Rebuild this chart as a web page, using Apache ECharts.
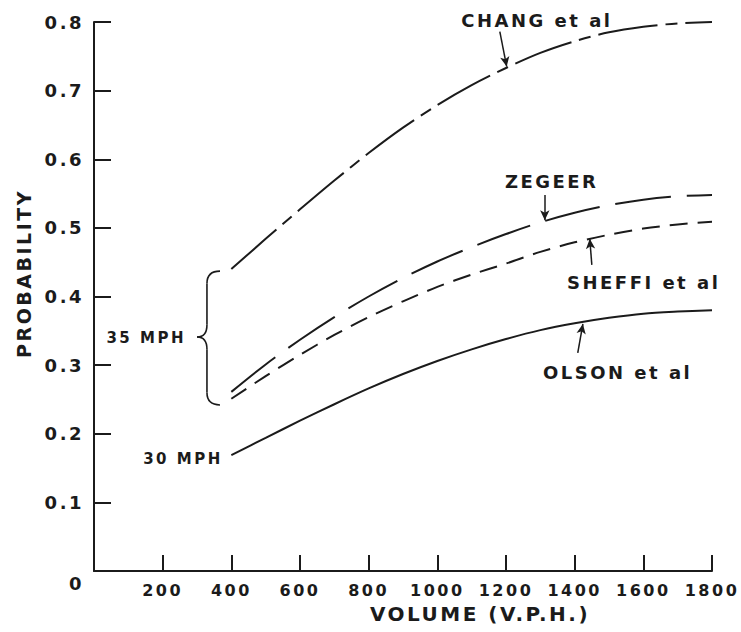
<!DOCTYPE html>
<html>
<head>
<meta charset="utf-8">
<style>
html, body { margin: 0; padding: 0; background: #fff; }
#chart { width: 741px; height: 632px; }
#chart text { letter-spacing: 2.5px; }
</style>
<script src="https://cdn.jsdelivr.net/npm/echarts@6/dist/echarts.min.js"></script>
</head>
<body>
<div id="chart"></div>
<script>
var volume = [400, 500, 600, 700, 800, 900, 1000, 1100, 1200, 1300, 1400, 1500, 1600, 1700, 1800];
var chang  = [0.440, 0.484, 0.527, 0.569, 0.609, 0.646, 0.679, 0.708, 0.733, 0.755, 0.772, 0.785, 0.793, 0.798, 0.800];
var zegeer = [0.261, 0.301, 0.337, 0.370, 0.400, 0.427, 0.451, 0.472, 0.491, 0.508, 0.522, 0.533, 0.541, 0.546, 0.548];
var sheffi = [0.251, 0.284, 0.315, 0.344, 0.370, 0.393, 0.414, 0.432, 0.448, 0.465, 0.479, 0.490, 0.499, 0.505, 0.509];
var olson  = [0.169, 0.194, 0.219, 0.243, 0.266, 0.287, 0.306, 0.323, 0.338, 0.351, 0.361, 0.369, 0.375, 0.378, 0.380];

// arrows: [from, to] in data units
var changArrow  = [[1182, 0.786], [1202, 0.735]];
var zegeerArrow = [[1313, 0.548], [1313, 0.511]];
var sheffiArrow = [[1450, 0.446], [1444, 0.484]];
var olsonArrow  = [[1409, 0.318], [1424, 0.360]];

// curve / speed labels: [volume, probability]
var notes = [
  { text: 'CHANG et al', at: [1290, 0.802], size: 18, align: 'center' },
  { text: 'ZEGEER', at: [1333, 0.567], size: 18, align: 'center' },
  { text: 'SHEFFI et al', at: [1601, 0.420], size: 18, align: 'center' },
  { text: 'OLSON et al', at: [1525, 0.289], size: 18, align: 'center' },
  { text: '35 MPH', at: [268, 0.340], size: 15, align: 'right' },
  { text: '30 MPH', at: [375, 0.163], size: 15, align: 'right' }
];

var ink = '#1b1b1b';
var font = 'DejaVu Sans';

var chart = echarts.init(document.getElementById('chart'), null, { renderer: 'svg' });

function curve(name, vals, dash, arrow) {
  return {
    name: name,
    type: 'line',
    smooth: 0.3,
    symbol: 'none',
    data: volume.map(function (v, i) { return [v, vals[i]]; }),
    lineStyle: { color: ink, width: 2, type: dash },
    markLine: {
      silent: true,
      symbol: ['none', 'arrow'],
      symbolSize: [7, 10],
      lineStyle: { color: ink, width: 1.5, type: 'solid' },
      label: { show: false },
      data: [[{ coord: arrow[0] }, { coord: arrow[1] }]]
    }
  };
}

var option = {
  animation: false,
  backgroundColor: '#fff',
  grid: {
    left: 94,
    right: 29,
    top: 22,
    bottom: 61,
    outerBoundsMode: 'none'
  },
  xAxis: {
    type: 'value',
    min: 0,
    max: 1800,
    interval: 200,
    name: 'VOLUME (V.P.H.)',
    nameLocation: 'middle',
    nameGap: 33,
    nameTextStyle: {
      color: ink,
      fontFamily: font,
      fontWeight: 'bold',
      fontSize: 20,
      padding: [0, 0, 0, 154]
    },
    axisLine: { lineStyle: { color: ink, width: 2 } },
    axisTick: { inside: true, length: 16, lineStyle: { color: ink, width: 2 } },
    axisLabel: {
      color: ink,
      fontFamily: font,
      fontWeight: 'bold',
      fontSize: 16,
      margin: 11,
      formatter: function (v) { return v === 0 ? '' : v; }
    },
    splitLine: { show: false }
  },
  yAxis: {
    type: 'value',
    min: 0,
    max: 0.8,
    interval: 0.1,
    name: 'PROBABILITY',
    nameLocation: 'middle',
    nameRotate: 90,
    nameGap: 61,
    nameTextStyle: {
      color: ink,
      fontFamily: font,
      fontWeight: 'bold',
      fontSize: 19,
      padding: [0, 0, 0, 46]
    },
    axisLine: { show: true, lineStyle: { color: ink, width: 2 } },
    axisTick: { show: true, inside: true, length: 17, lineStyle: { color: ink, width: 2 } },
    axisLabel: {
      color: ink,
      fontFamily: font,
      fontWeight: 'bold',
      fontSize: 18,
      margin: 10,
      formatter: function (v) { return v === 0 ? '{z|0}' : v.toFixed(1); },
      rich: {
        z: { color: ink, fontFamily: font, fontWeight: 'bold', fontSize: 18, padding: [24, 0, 0, 0] }
      }
    },
    splitLine: { show: false }
  },
  series: [
    curve('CHANG et al', chang, [60, 8, 12, 8], changArrow),
    curve('ZEGEER', zegeer, [56, 16], zegeerArrow),
    curve('SHEFFI et al', sheffi, [18, 10], sheffiArrow),
    curve('OLSON et al', olson, 'solid', olsonArrow)
  ]
};
chart.setOption(option);

function px(v, p) {
  return chart.convertToPixel({ gridIndex: 0 }, [v, p]);
}

// brace grouping the 35 MPH curves
var braceTop = 0.437, braceTip = 0.341, braceBottom = 0.242;
var braceEnd = 367, braceSpine = 329, braceNose = 300, bend = 0.018;

function bez(a, c, b) {
  return {
    type: 'bezierCurve', silent: true,
    shape: { x1: a[0], y1: a[1], cpx1: c[0], cpy1: c[1], x2: b[0], y2: b[1] },
    style: { fill: null, stroke: ink, lineWidth: 1.6 }
  };
}
function seg(a, b) {
  return {
    type: 'line', silent: true,
    shape: { x1: a[0], y1: a[1], x2: b[0], y2: b[1] },
    style: { stroke: ink, lineWidth: 1.6 }
  };
}

var graphics = notes.map(function (n) {
  var q = px(n.at[0], n.at[1]);
  return {
    type: 'text',
    x: q[0],
    y: q[1],
    silent: true,
    style: {
      text: n.text,
      fill: ink,
      font: 'bold ' + n.size + 'px "DejaVu Sans"',
      textAlign: n.align,
      textVerticalAlign: 'middle'
    }
  };
});

graphics.push(
  bez(px(braceEnd, braceTop), px(braceSpine, braceTop), px(braceSpine, braceTop - bend)),
  seg(px(braceSpine, braceTop - bend), px(braceSpine, braceTip + bend)),
  bez(px(braceSpine, braceTip + bend), px(braceSpine, braceTip), px(braceNose, braceTip)),
  bez(px(braceNose, braceTip), px(braceSpine, braceTip), px(braceSpine, braceTip - bend)),
  seg(px(braceSpine, braceTip - bend), px(braceSpine, braceBottom + bend)),
  bez(px(braceSpine, braceBottom + bend), px(braceSpine, braceBottom), px(braceEnd, braceBottom))
);

chart.setOption({ graphic: { elements: graphics } });

window.addEventListener('resize', function () {
  chart.resize();
});
</script>
</body>
</html>
